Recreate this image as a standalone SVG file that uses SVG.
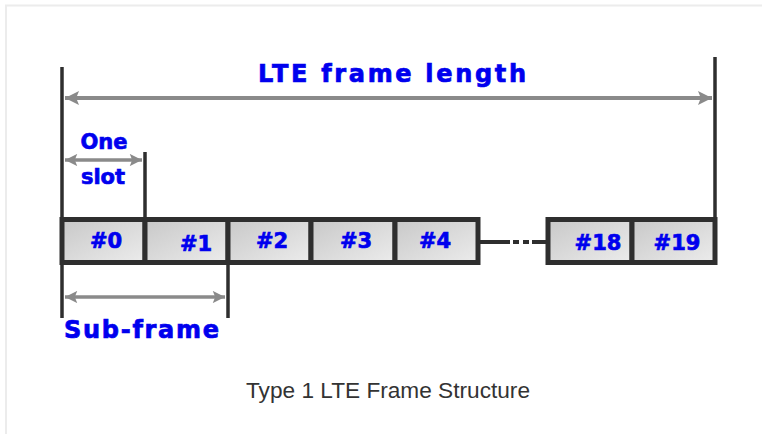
<svg xmlns="http://www.w3.org/2000/svg" width="762" height="434" viewBox="0 0 762 434">
<style>
.bl{font-family:"DejaVu Sans","Liberation Sans",Arial,sans-serif;font-weight:bold;fill:#0000ee;stroke:#0000ee;stroke-width:0.7}
.cap{font-family:"Liberation Sans",Arial,sans-serif;fill:#333;font-size:22px}
.vl{stroke:#2e2e2e;stroke-width:3.5;fill:none}
.ar{stroke:#8a8a8a;fill:none}
.cell{fill:url(#g);stroke:#2e2e2e;stroke-width:5}
.lnk{stroke:#2e2e2e;stroke-width:4;fill:none}
</style>
<defs>
<linearGradient id="g" x1="0" y1="0" x2="1" y2="1">
<stop offset="0" stop-color="#c8c8c8"/>
<stop offset="1" stop-color="#ececec"/>
</linearGradient>
<marker id="ah" viewBox="0 0 10 10" refX="10" refY="5" markerWidth="4" markerHeight="3.5" orient="auto-start-reverse" markerUnits="strokeWidth">
<path d="M0,0 L10,5 L0,10 L2,5 Z" fill="#8a8a8a"/>
</marker>
</defs>
<rect width="762" height="434" fill="#fff"/>
<path d="M6,434 V5.5 H762" stroke="#ececec" stroke-width="2" fill="none"/>
<g id="connectors">
<line class="vl" x1="62" y1="67" x2="62" y2="318"/>
<line class="vl" x1="715" y1="57" x2="715" y2="219"/>
<line class="vl" x1="145" y1="152" x2="145" y2="219"/>
<line class="vl" x1="228" y1="262" x2="228" y2="318"/>
<line class="ar" x1="65" y1="98" x2="712" y2="98" stroke-width="4" marker-start="url(#ah)" marker-end="url(#ah)"/>
<line class="ar" x1="65" y1="160" x2="142" y2="160" stroke-width="3.5" marker-start="url(#ah)" marker-end="url(#ah)"/>
<line class="ar" x1="65" y1="297" x2="225" y2="297" stroke-width="3.5" marker-start="url(#ah)" marker-end="url(#ah)"/>
<path class="lnk" d="M478,242 H510 M513,242 H519 M523,242 H529 M532,242 H548"/>
</g>
<g id="labels">
<text class="bl" x="258" y="82" font-size="24" textLength="268" lengthAdjust="spacing">LTE frame length</text>
<text class="bl" x="104" y="149" font-size="21" text-anchor="middle">One</text>
<text class="bl" x="103" y="184" font-size="21" text-anchor="middle">slot</text>
<text class="bl" x="64" y="338" font-size="24" textLength="155" lengthAdjust="spacing">Sub-frame</text>
</g>
<g id="cell0"><rect class="cell" x="62" y="219.5" width="83" height="43"/><text class="bl" x="106" y="248" font-size="21" text-anchor="middle">#0</text></g>
<g id="cell1"><rect class="cell" x="145" y="219.5" width="83" height="43"/><text class="bl" x="196" y="251" font-size="21" text-anchor="middle">#1</text></g>
<g id="cell2"><rect class="cell" x="228" y="219.5" width="83" height="43"/><text class="bl" x="272" y="248" font-size="21" text-anchor="middle">#2</text></g>
<g id="cell3"><rect class="cell" x="311" y="219.5" width="84" height="43"/><text class="bl" x="356" y="248" font-size="21" text-anchor="middle">#3</text></g>
<g id="cell4"><rect class="cell" x="395" y="219.5" width="83" height="43"/><text class="bl" x="435" y="248" font-size="21" text-anchor="middle">#4</text></g>
<g id="cell18"><rect class="cell" x="548" y="219.5" width="84" height="43"/><text class="bl" x="598" y="250" font-size="21" text-anchor="middle">#18</text></g>
<g id="cell19"><rect class="cell" x="632" y="219.5" width="83" height="43"/><text class="bl" x="677" y="250" font-size="21" text-anchor="middle">#19</text></g>
<text class="cap" x="388" y="398" text-anchor="middle" textLength="284" lengthAdjust="spacingAndGlyphs">Type 1 LTE Frame Structure</text>
</svg>
